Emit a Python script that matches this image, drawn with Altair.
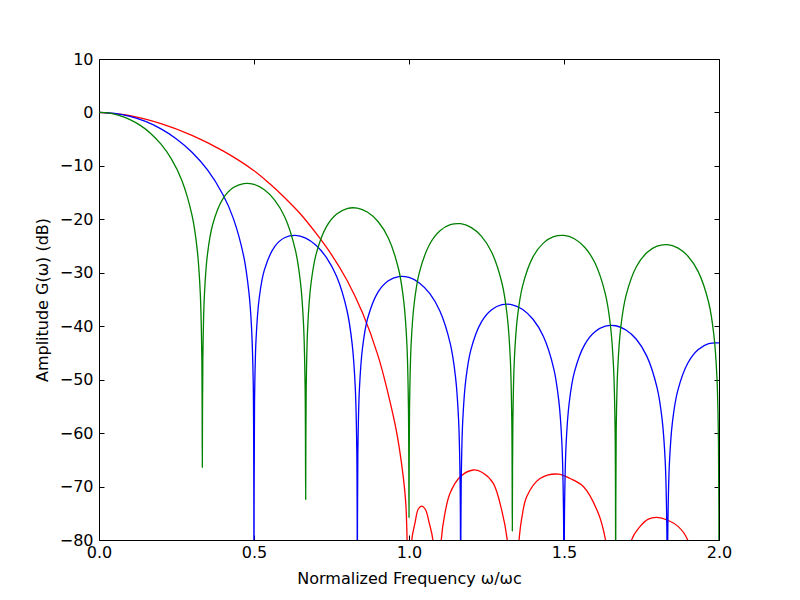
import altair as alt
import pandas as pd

# ---- Series (normalized frequency, dB) ----
green_w = [0, 0.0333, 0.0667, 0.1, 0.1333, 0.1667, 0.2, 0.2333, 0.2667, 0.3, 0.3167, 0.3267, 0.3317, 0.3333,
           0.3350, 0.3400, 0.3500, 0.3667, 0.4, 0.4333, 0.4667, 0.5, 0.5333, 0.5667, 0.6, 0.6333, 0.65, 0.66, 0.665, 0.6667,
           0.6683, 0.6733, 0.6833, 0.7, 0.7333, 0.7667, 0.8, 0.8333, 0.8667, 0.9, 0.9333, 0.9667, 0.9833, 0.9933, 0.9983, 1.0,
           1.0017, 1.0067, 1.0167, 1.0333, 1.0667, 1.1, 1.1333, 1.1667, 1.2, 1.2333, 1.2667, 1.3, 1.3167, 1.3267, 1.3317, 1.3333,
           1.3350, 1.3400, 1.3500, 1.3667, 1.4, 1.4333, 1.4667, 1.5, 1.5333, 1.5667, 1.6, 1.6333, 1.65, 1.66, 1.665, 1.6667,
           1.6683, 1.6733, 1.6833, 1.7, 1.7333, 1.7667, 1.8, 1.8333, 1.8667, 1.9, 1.9333, 1.9667, 1.9833, 1.9933, 1.9983, 2.0]
green_db = [0, -0.14, -0.58, -1.33, -2.42, -3.92, -5.94, -8.69, -12.62, -19.23, -25.61, -33.81, -45.98, -66.4,
            -46.07, -34.16, -26.48, -20.97, -16.14, -14.06, -13.30, -13.46, -14.46, -16.39, -19.66, -25.72, -31.85, -39.92, -52.02, -72.4,
            -52.07, -40.09, -32.29, -26.59, -21.41, -19.02, -17.98, -17.90, -18.68, -20.41, -23.50, -29.39, -35.45, -43.47, -55.55, -75.8,
            -55.58, -43.58, -35.74, -29.97, -24.66, -22.15, -21.01, -20.82, -21.51, -23.15, -26.16, -31.96, -37.99, -45.98, -58.05, -78.3,
            -58.08, -46.07, -38.20, -32.40, -27.02, -24.45, -23.25, -23.01, -23.63, -25.23, -28.18, -33.95, -39.95, -47.93, -59.99, -90,
            -60.01, -48.00, -40.12, -34.29, -28.88, -26.27, -25.03, -24.75, -25.34, -26.90, -29.83, -35.56, -41.54, -49.52, -61.58, -90]

blue_w = [0, 0.05, 0.1, 0.15, 0.2, 0.25, 0.3, 0.35, 0.4, 0.4333, 0.4667, 0.4833, 0.4917, 0.4975, 0.5,
          0.5017, 0.5067, 0.5167, 0.5333, 0.5667, 0.6, 0.6333, 0.6667, 0.7, 0.7333, 0.7667, 0.8, 0.8167, 0.8267, 0.8317, 0.8333,
          0.8350, 0.8400, 0.85, 0.8667, 0.9, 0.9333, 0.9667, 1.0, 1.0333, 1.0667, 1.1, 1.1333, 1.15, 1.16, 1.165, 1.1667,
          1.1683, 1.1733, 1.1833, 1.2, 1.2333, 1.2667, 1.3, 1.3333, 1.3667, 1.4, 1.4333, 1.4667, 1.4833, 1.4933, 1.4983, 1.5,
          1.5017, 1.5067, 1.5167, 1.5333, 1.5667, 1.6, 1.6333, 1.6667, 1.7, 1.7333, 1.7667, 1.8, 1.8167, 1.8267, 1.8317, 1.8333,
          1.8350, 1.84, 1.85, 1.8667, 1.9, 1.9333, 1.9667, 2.0]
blue_db = [0, -0.18, -0.74, -1.69, -3.07, -4.95, -7.44, -10.76, -15.39, -19.82, -26.90, -33.51, -39.84, -50.52, -90,
           -54.21, -42.36, -34.81, -29.51, -25.09, -23.40, -23.00, -23.52, -24.86, -27.12, -30.71, -37.06, -43.35, -51.50, -63.65, -90,
           -63.72, -51.79, -44.07, -38.51, -33.61, -31.49, -30.71, -30.88, -31.90, -33.87, -37.20, -43.31, -49.48, -57.56, -69.68, -90,
           -69.73, -57.77, -49.99, -44.32, -39.23, -36.92, -35.98, -35.99, -36.86, -38.69, -41.88, -47.87, -53.98, -62.02, -74.12, -90,
           -74.16, -62.18, -54.37, -48.65, -43.44, -41.04, -39.99, -39.91, -40.70, -42.44, -45.55, -51.46, -57.53, -65.56, -77.65, -90,
           -77.68, -65.69, -57.85, -52.10, -46.83, -44.35, -43.25, -43.11]

red_w = [0, 0.1, 0.2, 0.3, 0.4, 0.5, 0.55, 0.6, 0.65, 0.7, 0.75, 0.8, 0.85, 0.9, 0.93, 0.96, 0.98, 0.99, 0.9975,
         1.003, 1.009, 1.019, 1.03, 1.041, 1.053, 1.0655, 1.077,
         1.09, 1.104, 1.115, 1.132, 1.1645, 1.2075, 1.24, 1.272, 1.299, 1.317,
         1.336, 1.355, 1.365, 1.3796, 1.4226, 1.4817, 1.52, 1.5624, 1.6107, 1.634,
         1.676, 1.718, 1.745, 1.772, 1.799, 1.835, 1.8687, 1.899, 1.95, 2.0]
red_db = [0, -0.6, -2.1, -4.3, -7.2, -10.9, -13.3, -16.0, -19.0, -22.6, -26.6, -31.4, -37.5, -45.5, -52.0, -59.8, -67.5, -73.5, -90,
          -100, -80, -76.9, -74.2, -73.65, -74.3, -76.9, -80,
          -100, -80, -75.3, -71.3, -68.2, -66.9, -67.5, -69.4, -74.4, -80,
          -100, -80, -75.5, -71.9, -68.5, -67.66, -68.5, -70.0, -75.0, -80,
          -100, -80, -77.5, -76.1, -75.77, -76.3, -77.5, -80, -100, -110]

x_ticks = [0.0, 0.5, 1.0, 1.5, 2.0]
y_ticks = [10, 0, -10, -20, -30, -40, -50, -60, -70, -80]

FONT = "DejaVu Sans"

x_scale = alt.Scale(domain=[0, 2], nice=False, zero=False)
y_scale = alt.Scale(domain=[-80, 10], nice=False, zero=False)

x_axis = alt.Axis(values=x_ticks, format=".1f", title="Normalized Frequency ω/ωc",
                  ticks=False, domain=False, grid=True, gridColor="black", gridOpacity=1,
                  gridWidth=1, gridDash=[5, 471, 5, 1000], labelPadding=4, titlePadding=10,
                  labelFont=FONT, titleFont=FONT, labelFontSize=16, titleFontSize=16,
                  titleFontWeight="normal", labelColor="black", titleColor="black",
                  labelFlush=False, labelOverlap=False)
y_axis = alt.Axis(values=y_ticks, format="d", title="Amplitude G(ω) (dB)",
                  ticks=False, domain=False, grid=True, gridColor="black", gridOpacity=1,
                  gridWidth=1, gridDash=[5, 610, 5, 1000], labelPadding=6, titlePadding=9,
                  labelFont=FONT, titleFont=FONT, labelFontSize=16, titleFontSize=16,
                  titleFontWeight="normal", labelColor="black", titleColor="black",
                  labelFlush=False, labelOverlap=False)


def layer(w, db, color):
    df = pd.DataFrame({"w": w, "db": db})
    return alt.Chart(df).mark_line(color=color, strokeWidth=1.3, clip=True,
                                   interpolate="catmull-rom").encode(
        x=alt.X("w:Q", scale=x_scale, axis=x_axis),
        y=alt.Y("db:Q", scale=y_scale, axis=y_axis),
    )


chart = alt.layer(
    layer(red_w, red_db, "#ff0000"),
    layer(blue_w, blue_db, "#0000ff"),
    layer(green_w, green_db, "#008000"),
).properties(
    width=620, height=481,
    autosize=alt.AutoSizeParams(type="none"),
    padding={"left": 91, "top": 51, "right": 73, "bottom": 52},
    background="white",
).configure_view(stroke="black", strokeWidth=1)

chart.save("out.html", embed_options={"renderer": "svg", "actions": False})
